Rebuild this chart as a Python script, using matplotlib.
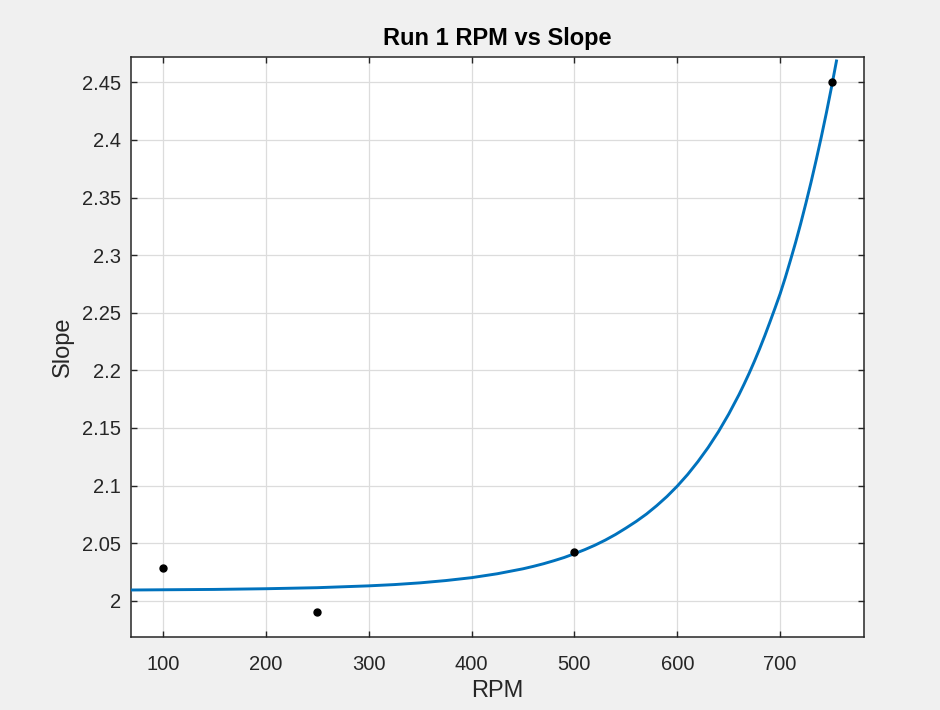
import matplotlib
matplotlib.use("Agg")
import matplotlib.pyplot as plt

# Measured data points
rpm = [100, 250, 500, 750]
slope = [2.0287, 1.9903, 2.0422, 2.4500]

# Fitted curve
curve_x = [69, 100, 150, 200, 250, 300, 325, 350, 375, 400, 425, 450, 460,
           470, 480, 490, 500, 510, 520, 530, 540, 550, 560, 570, 580, 590,
           600, 610, 620, 630, 640, 650, 660, 665, 670, 675, 680, 685, 690,
           695, 700, 705, 710, 715, 720, 725, 730, 735, 740, 745, 750, 755]
curve_y = [2.0093, 2.0095, 2.0098, 2.0104, 2.0113, 2.0129, 2.0140, 2.0155,
           2.0175, 2.0200, 2.0234, 2.0277, 2.0298, 2.0321, 2.0347, 2.0375,
           2.0408, 2.0443, 2.0482, 2.0526, 2.0575, 2.0630, 2.0688, 2.0752,
           2.0825, 2.0905, 2.0995, 2.1095, 2.1207, 2.1330, 2.1467, 2.1620,
           2.1789, 2.1881, 2.1977, 2.2079, 2.2186, 2.2299, 2.2418, 2.2540,
           2.2665, 2.2805, 2.2955, 2.3110, 2.3275, 2.3450, 2.3632, 2.3825,
           2.4026, 2.4238, 2.4462, 2.4698]

xticks = [100, 200, 300, 400, 500, 600, 700]
yticks = [2, 2.05, 2.1, 2.15, 2.2, 2.25, 2.3, 2.35, 2.4, 2.45]
ytick_labels = ["2", "2.05", "2.1", "2.15", "2.2", "2.25", "2.3", "2.35", "2.4", "2.45"]

plt.rcParams['font.family'] = ['Liberation Sans', 'DejaVu Sans']
axcol = '#262626'

fig = plt.figure(figsize=(9.4, 7.1), dpi=100, facecolor='#f0f0f0')
ax = fig.add_axes([131/940, 73/710, 733/940, 580/710])
ax.set_facecolor('white')

ax.plot(curve_x, curve_y, color='#0072BD', lw=2.1, zorder=3,
        solid_joinstyle='round', solid_capstyle='butt')
ax.plot(rpm, slope, 'o', color='black', markersize=5, zorder=4)

ax.set_xlim(69, 781.5)
ax.set_ylim(1.9685, 2.472)
ax.set_xticks(xticks)
ax.set_xticklabels([str(t) for t in xticks])
ax.set_yticks(yticks)
ax.set_yticklabels(ytick_labels)

ax.grid(True, color='#dcdcdc', lw=0.9)
ax.set_axisbelow(True)
for s in ax.spines.values():
    s.set_color(axcol)
    s.set_linewidth(1.1)
ax.tick_params(direction='in', length=4, width=1, colors=axcol,
               top=True, right=True, labelsize=14.5)
ax.tick_params(axis='x', pad=13)
ax.tick_params(axis='y', pad=7)

ax.set_xlabel('RPM', fontsize=17, color=axcol, labelpad=4)
ax.set_ylabel('Slope', fontsize=17, color=axcol, labelpad=6)
ax.set_title('Run 1 RPM vs Slope', fontsize=17, fontweight='bold', color='black', pad=9)

fig.savefig('out.png', dpi=100, facecolor=fig.get_facecolor())
